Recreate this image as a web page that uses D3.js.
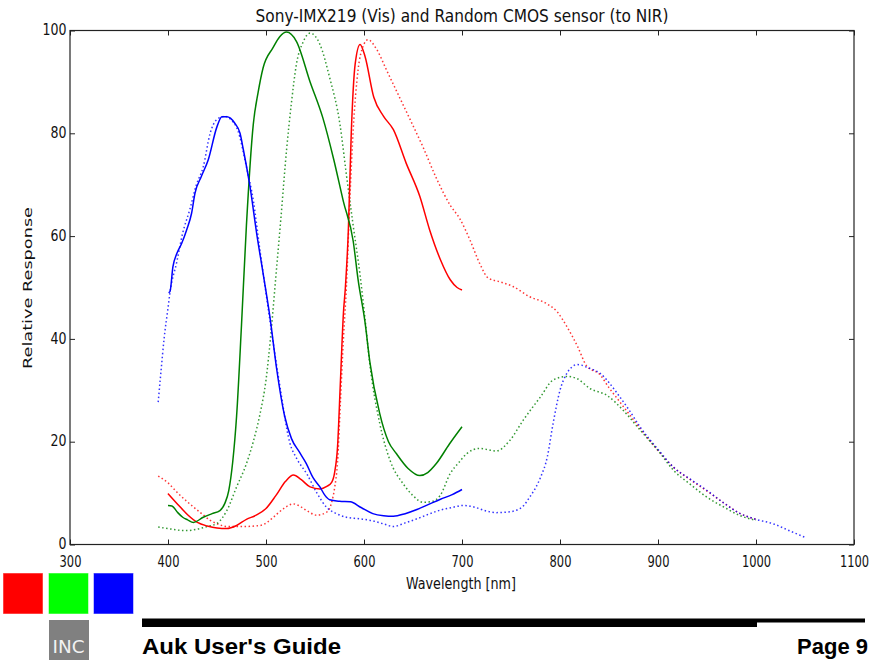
<!DOCTYPE html>
<html><head><meta charset="utf-8">
<script src="https://cdn.jsdelivr.net/npm/d3@7"></script>
<style>body{margin:0;background:#fff}</style>
</head><body>
<svg id="c" width="878" height="660" xmlns="http://www.w3.org/2000/svg"></svg>
<script>
// ---- data: [wavelength nm, relative response] ----
const sonyRed = [[400,9.9],[410,7.8],[420,5.8],[430,4.3],[440,3.6],[450,3.2],[460,3.1],[470,3.7],[480,4.9],[490,5.7],[500,7],[510,9.5],[520,12.3],[528,13.5],[536,12.6],[545,11.2],[555,10.8],[562,11.3],[567,12.1],[570,14],[573,19],[576,32],[579,45],[581,50],[584,61],[587,80],[591,93.5],[596,97.3],[601,95],[610,87],[620,83.3],[630,80.7],[643,74.2],[657,67.7],[667,61.2],[678,55.4],[688,51.5],[695,50],[700,49.5]];
const sonyGreen = [[400,7.6],[404,7.5],[410,6.2],[415,5.3],[420,4.8],[426,4.3],[436,5.3],[445,6],[453,6.6],[458,8],[462,10.5],[466,16],[470,25],[475,42.7],[480,62],[487,81.7],[492,88],[497,92.7],[507,96.6],[514,98.8],[521,99.7],[531,97.9],[545,90],[558,83],[569,75],[579,66.7],[589,59],[594,51.5],[601,43.3],[606,35.5],[616,25.5],[625,20],[633,17.7],[645,14.8],[657,13.4],[665,14],[674,15.8],[687,19.5],[700,22.9]];
const sonyBlue = [[400.5,49],[402,49.2],[405,54],[409,56.6],[414,58.6],[419,61.2],[424,64.4],[427.5,68.3],[434,71.6],[441,74.8],[450,81.3],[455,83.2],[460,83.2],[468,82],[473.5,80],[477,76.7],[483.7,69.6],[490.5,60.5],[497,52.8],[504,44.3],[511,34],[519,25],[526,20.6],[534,18],[541,15.8],[548,13],[555,11.2],[560,9.6],[565,8.7],[575,8.4],[586,8.3],[597,7.2],[609,6],[620,5.6],[630,5.5],[642,6],[654,6.8],[666,7.8],[678,8.8],[690,9.7],[700,10.7]];
const cmosRed = [[390,13.3],[400,12],[409,10.2],[418,8.6],[426,7.3],[435,5.9],[443,4.7],[452,3.9],[460,3.5],[477,3.5],[494,3.7],[501,4.3],[507.5,5.3],[518,7],[528,7.9],[535,7.4],[541.5,6.6],[552,5.7],[562,6.3],[567,8.2],[570,11],[573,16],[576,28],[579,40],[582,50],[585.7,67.7],[589,80.7],[594,92.4],[599,96.9],[604,98.2],[613,96.3],[623,92.3],[633,88.3],[647,82.7],[660.5,77.2],[674,71.2],[688,66],[698,63.3],[708,59.3],[718,54.7],[727,51.8],[739,51.1],[752,50.2],[769,48.2],[786,46.9],[797,45.3],[807,42.4],[818,38.5],[827,34.8],[841,33],[850,30.5],[860,28],[870,25.5],[882,22.5],[900,18.3],[916,15],[933,12.6],[950,10.4],[967,8.1],[984,6],[1000,4.9]];
const cmosGreen = [[390,3.4],[400,3.1],[410,2.8],[420,2.7],[430,3],[440,3.5],[450,4.1],[460,6.6],[470,11.2],[480,15.7],[487,20],[494,25.5],[500,32],[505,41],[510,52],[515,63],[521,76.8],[526,86],[531,93.4],[538,97.8],[545,99.5],[555,97.3],[565,90.8],[575.5,81.7],[582,72],[589,62],[596,52.4],[601,44],[606,35],[616,23.6],[626.5,16.4],[640,11.8],[650,9.5],[660.5,8.2],[670,8.4],[677.6,9.5],[688,13.8],[697,16],[705,17.7],[718,18.7],[735,18.2],[749,20.3],[762.5,24.2],[780,28.7],[793,32],[807,32.7],[817,32.3],[831,30.3],[848,29],[865,26],[882,22.2],[900,18.3],[916,14.4],[933,11.7],[950,9.2],[967,7.3],[984,5.6],[1000,4.7]];
const cmosBlue = [[390,27.7],[393,34],[396,40],[400,46],[402,49],[409,55],[415,60.6],[422,65],[429,70],[436,73.5],[443,80],[450,82.7],[458,83.3],[465,82.5],[471,80.7],[480,73.5],[487,67],[494,57],[501,47.6],[506,41],[514,31],[524,20],[532,16.5],[541.5,13.8],[552,10],[562,7.2],[572,6],[582,5.3],[595,5],[609,4.6],[620,4],[630,3.5],[642,4.2],[654,5],[666,5.9],[678,6.7],[690,7.2],[701,7.6],[712,7.3],[725,6.5],[735,6.2],[746,6.3],[756,6.7],[763,7.6],[769,9.2],[775,11],[780,13],[787,17],[793,23.6],[800,30],[807,33.3],[812,34.5],[817,35],[822,34.9],[827,34.5],[834,34],[841,33.3],[850,31.5],[858,29.5],[870,26.3],[882,22.8],[900,18.5],[916,15],[933,12.7],[950,10.5],[967,8.1],[984,6],[1000,4.9],[1018,4],[1035,2.6],[1050,1.4]];

const xTicks = [300,400,500,600,700,800,900,1000,1100];
const yTicks = [0,20,40,60,80,100];
const titleText = "Sony-IMX219 (Vis) and Random CMOS sensor (to NIR)";
const xLabel = "Wavelength [nm]";
const yLabel = "Relative Response";
const swatchColors = ["#ff0000","#00ff00","#0000ff"];

// ---- drawing ----
const svg = d3.select("#c");
const L = 70, R = 854, T = 30.5, B = 544.5;
const x = d3.scaleLinear().domain([300,1100]).range([L,R]);
const y = d3.scaleLinear().domain([0,100]).range([B,T]);
const font = "'DejaVu Sans', sans-serif";

svg.append("rect").attr("x",0).attr("y",0).attr("width",878).attr("height",660).attr("fill","#fff");

const line = d3.line().x(d=>x(d[0])).y(d=>y(d[1])).curve(d3.curveMonotoneX);
const plot = svg.append("g");
const dotted = [[cmosRed,"#ff0000"],[cmosGreen,"#008000"],[cmosBlue,"#0000ff"]];
dotted.forEach(([d,c]) => plot.append("path").attr("d",line(d)).attr("fill","none")
  .attr("stroke",c).attr("stroke-width",1.5).attr("stroke-dasharray","1.5,2.5").attr("opacity",0.8));
const solid = [[sonyRed,"#ff0000"],[sonyGreen,"#008000"],[sonyBlue,"#0000ff"]];
solid.forEach(([d,c]) => plot.append("path").attr("d",line(d)).attr("fill","none")
  .attr("stroke",c).attr("stroke-width",1.5).attr("stroke-linejoin","round"));

// axes with inward ticks
function styleAxis(g){ g.select(".domain").remove(); g.selectAll(".tick line").attr("stroke","#222"); }
const gx = svg.append("g").attr("transform",`translate(0,${B})`)
  .call(d3.axisBottom(x).tickValues(xTicks).tickSize(-5).tickFormat(d3.format("d"))).call(styleAxis);
gx.selectAll("text").attr("y",22.5).attr("dy",0).attr("font-size",15).attr("font-family",font)
  .attr("fill","#111").attr("textLength",d=>String(d).length*7.3).attr("lengthAdjust","spacingAndGlyphs");
svg.append("g").attr("transform",`translate(0,${T})`)
  .call(d3.axisTop(x).tickValues(xTicks).tickSize(-5).tickFormat("")).call(styleAxis);
const gy = svg.append("g").attr("transform",`translate(${L},0)`)
  .call(d3.axisLeft(y).tickValues(yTicks).tickSize(-5).tickFormat(d3.format("d"))).call(styleAxis);
gy.selectAll("text").attr("x",-3.5).attr("dy","0.28em").attr("font-size",15).attr("font-family",font)
  .attr("fill","#111").attr("textLength",d=>String(d).length*8).attr("lengthAdjust","spacingAndGlyphs");
svg.append("g").attr("transform",`translate(${R},0)`)
  .call(d3.axisRight(y).tickValues(yTicks).tickSize(-5).tickFormat("")).call(styleAxis);

svg.append("rect").attr("x",L).attr("y",T).attr("width",R-L).attr("height",B-T)
  .attr("fill","none").attr("stroke","#222").attr("stroke-width",1.2);

// titles
svg.append("text").attr("x",(L+R)/2).attr("y",22).attr("text-anchor","middle")
  .attr("font-family",font).attr("font-size",17).attr("fill","#111")
  .attr("textLength",413).attr("lengthAdjust","spacingAndGlyphs").text(titleText);
svg.append("text").attr("x",461).attr("y",589).attr("text-anchor","middle")
  .attr("font-family",font).attr("font-size",15).attr("fill","#111")
  .attr("textLength",110).attr("lengthAdjust","spacingAndGlyphs").text(xLabel);
svg.append("text").attr("transform",`translate(32,288) rotate(-90)`).attr("text-anchor","middle")
  .attr("font-family",font).attr("font-size",12.5).attr("fill","#111")
  .attr("textLength",162).attr("lengthAdjust","spacingAndGlyphs").text(yLabel);

// footer decoration
const sw = [3,48.5,93.5];
swatchColors.forEach((c,i)=> svg.append("rect").attr("x",sw[i]).attr("y",573).attr("width",40)
  .attr("height",41).attr("fill",c).attr("stroke","#fff").attr("stroke-opacity",0.5).attr("stroke-width",1));
svg.append("rect").attr("x",49).attr("y",620).attr("width",40).attr("height",40).attr("fill","#808080");
svg.append("text").attr("x",68.5).attr("y",653).attr("text-anchor","middle").attr("font-family",font)
  .attr("font-size",17).attr("fill","#f2f2f2").attr("textLength",32).attr("lengthAdjust","spacingAndGlyphs").text("INC");
svg.append("rect").attr("x",142).attr("y",618.5).attr("width",615).attr("height",8.5).attr("fill","#000");
svg.append("rect").attr("x",757).attr("y",618.5).attr("width",108).attr("height",4).attr("fill","#000");
svg.append("text").attr("x",142).attr("y",654).attr("font-family","'Liberation Sans', Arial, sans-serif")
  .attr("font-weight","bold").attr("font-size",22).attr("fill","#000")
  .attr("textLength",199).attr("lengthAdjust","spacingAndGlyphs").text("Auk User's Guide");
svg.append("text").attr("x",868).attr("y",654).attr("text-anchor","end").attr("font-family","'Liberation Sans', Arial, sans-serif")
  .attr("font-weight","bold").attr("font-size",22).attr("fill","#000").text("Page 9");
</script>
</body></html>
